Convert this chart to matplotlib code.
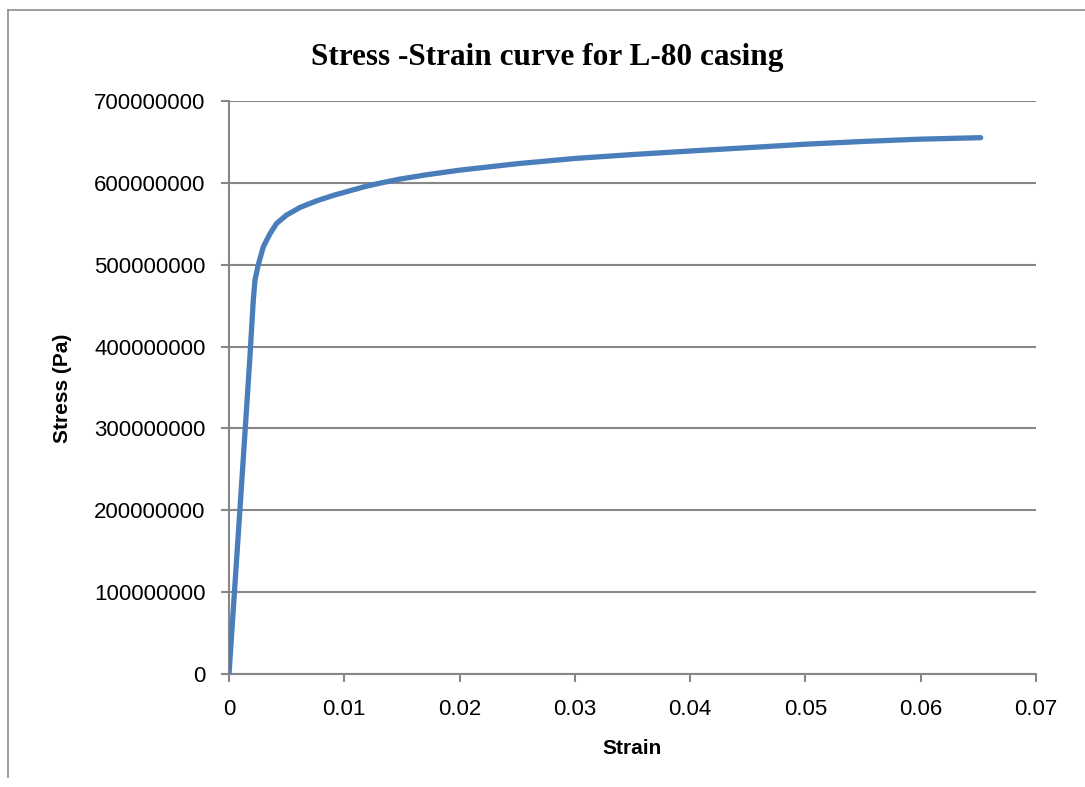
import matplotlib.pyplot as plt
from matplotlib.lines import Line2D
from matplotlib.ticker import FuncFormatter
import numpy as np

# values
strain = [0, 0.001, 0.0018, 0.0021, 0.00225, 0.00254, 0.00298, 0.00356,
          0.00413, 0.005, 0.00616, 0.0076, 0.00905, 0.0105, 0.01194,
          0.01338, 0.01483, 0.01714, 0.02, 0.025, 0.03, 0.035, 0.04,
          0.045, 0.05, 0.055, 0.06, 0.0652]
stress_mpa = [0, 212, 384, 455, 481, 500, 522, 538,
              550.5, 560.7, 570, 578, 584.7, 590.4, 596,
              600.5, 604.6, 609.9, 615.5, 623.4, 629.8, 634.6, 638.9,
              643, 647.2, 650.6, 653.4, 655.2]
stress = np.array(stress_mpa) * 1e6

x_ticks = [0, 0.01, 0.02, 0.03, 0.04, 0.05, 0.06, 0.07]
y_ticks = [0, 1e8, 2e8, 3e8, 4e8, 5e8, 6e8, 7e8]

W, H = 1085, 787
fig = plt.figure(figsize=(W / 100, H / 100), dpi=100)
ax = fig.add_axes([229 / W, 1 - 674 / H, (1036 - 229) / W, (674 - 101) / H])

grid_col = "#878787"
ax.plot(strain, stress, color="#4a7ebb", lw=3.8, solid_capstyle="round",
        solid_joinstyle="round", zorder=3)

ax.set_xlim(0, 0.07)
ax.set_ylim(0, 7e8)
ax.set_xticks(x_ticks)
ax.set_yticks(y_ticks)
ax.xaxis.set_major_formatter(FuncFormatter(lambda v, p: "%g" % v))
ax.yaxis.set_major_formatter(FuncFormatter(lambda v, p: "%d" % round(v)))

ax.grid(axis="y", color=grid_col, lw=1.5)
ax.set_axisbelow(True)
for s in ["top", "right"]:
    ax.spines[s].set_visible(False)
for s in ["left", "bottom"]:
    ax.spines[s].set_color(grid_col)
    ax.spines[s].set_linewidth(1.5)

ax.tick_params(axis="both", direction="out", length=6, width=1.5, color=grid_col)
ax.tick_params(axis="x", pad=12)
ax.tick_params(axis="y", pad=11)
for lab in ax.get_xticklabels() + ax.get_yticklabels():
    lab.set_fontfamily("Liberation Sans")
    lab.set_fontsize(16)

fig.text(547 / W, 1 - 57 / H, "Stress -Strain curve for L-80 casing",
         ha="center", va="center", family="Liberation Serif",
         fontweight="bold", fontsize=22.5)
fig.text(632 / W, 1 - 748 / H, "Strain", ha="center", va="center",
         family="Liberation Sans", fontweight="bold", fontsize=15)
fig.text(62 / W, 1 - 388 / H, "Stress (Pa)", ha="center", va="center",
         rotation=90, family="Liberation Sans", fontweight="bold", fontsize=15)

# outer chart frame
fig.add_artist(Line2D([8 / W, 8 / W], [1 - 777 / H, 1 - 10 / H],
                      transform=fig.transFigure, color="#8c8c8c", lw=1.2))
fig.add_artist(Line2D([8 / W, 1.0], [1 - 10 / H, 1 - 10 / H],
                      transform=fig.transFigure, color="#8c8c8c", lw=1.2))

fig.savefig("out.png", dpi=100)
